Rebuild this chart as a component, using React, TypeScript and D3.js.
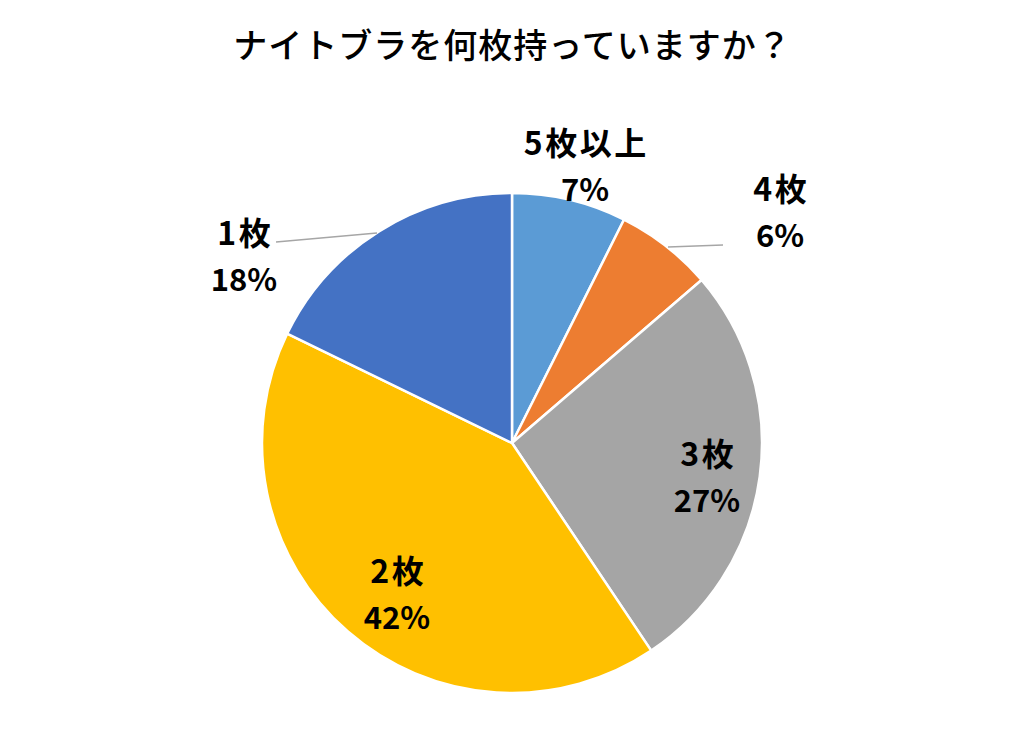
import React from "react";
import * as d3 from "d3";

const categories = ["5枚以上", "4枚", "3枚", "2枚", "1枚"];
const values = [7.4, 6.3, 26.9, 41.6, 17.8];
const percentLabels = ["7%", "6%", "27%", "42%", "18%"];
const colors = ["#5B9BD5", "#ED7D31", "#A5A5A5", "#FFC000", "#4472C4"];
const title = "ナイトブラを何枚持っていますか？";

// label block centre relative to pie centre
const labelPos: [number, number][] = [
  [73, -279],
  [268, -233],
  [195, 32],
  [-115, 149],
  [-268, -189],
];
const leaders: (null | { from: [number, number]; to: [number, number] })[] = [
  null,
  { from: [211, -198], to: [156, -196] },
  null,
  null,
  { from: [-236, -201], to: [-135, -210] },
];

export default function App() {
  const W = 1024;
  const H = 750;
  const cx = 512;
  const cy = 443;
  const r = 250;
  const pie = d3.pie<number>().sort(null).value((d) => d)(values);
  const arc = d3.arc<d3.PieArcDatum<number>>().innerRadius(0).outerRadius(r);
  const font = "'Noto Sans CJK JP', 'Noto Sans', sans-serif";
  const ls = 2.5;
  return (
    <svg width={W} height={H} style={{ position: "absolute", left: 0, top: 0 }}>
      <rect width={W} height={H} fill="#fff" />
      <text x={512 + 0.5} y={43} textAnchor="middle" dominantBaseline="central" fontFamily={font} fontSize={34} fontWeight={500} letterSpacing={1} fill="#000">
        {title}
      </text>
      <g transform={`translate(${cx},${cy})`}>
        {pie.map((p, i) => (
          <path key={i} d={arc(p) || ""} fill={colors[i]} stroke="#fff" strokeWidth={2.5} strokeLinejoin="round" />
        ))}
        {leaders.map((l, i) =>
          l ? (
            <line key={"l" + i} x1={l.from[0]} y1={l.from[1]} x2={l.to[0]} y2={l.to[1]} stroke="#A6A6A6" strokeWidth={1.3} />
          ) : null
        )}
        {categories.map((c, i) => (
          <g key={"t" + i} fontFamily={font} fontWeight={700} fill="#000" textAnchor="middle">
            <text x={labelPos[i][0] + ls / 2} y={labelPos[i][1] - 23} dominantBaseline="central" fontSize={32} letterSpacing={ls}>{c}</text>
            <text x={labelPos[i][0]} y={labelPos[i][1] + 23} dominantBaseline="central" fontSize={31}>{percentLabels[i]}</text>
          </g>
        ))}
      </g>
    </svg>
  );
}
